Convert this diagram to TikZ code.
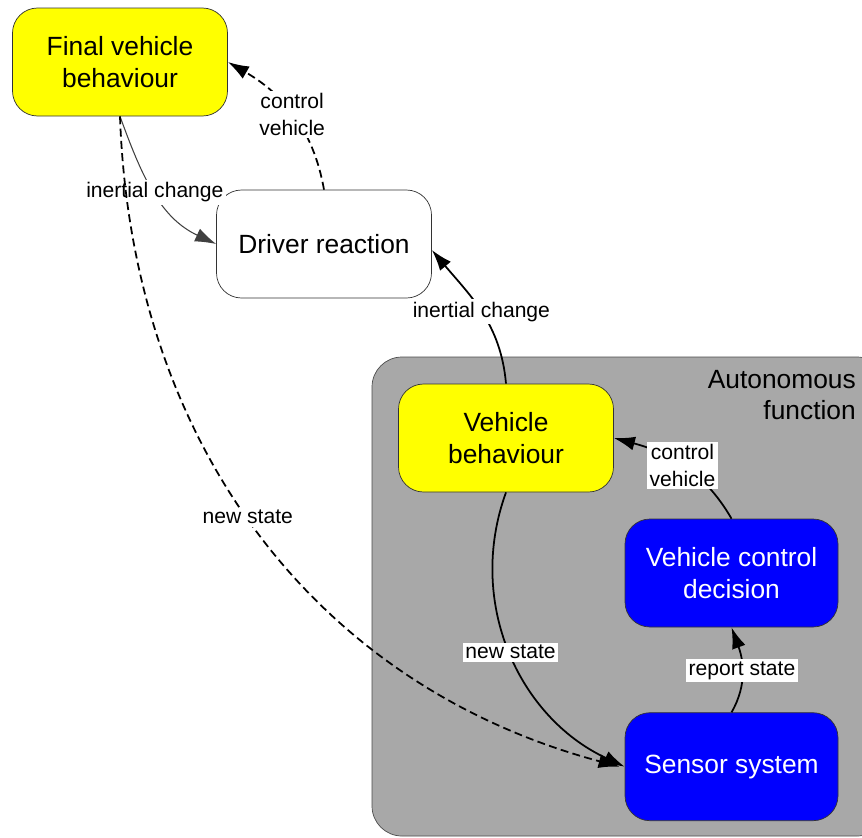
\documentclass[tikz,border=0pt]{standalone}
\usepackage{fontspec}
\setmainfont{Liberation Sans}
\usetikzlibrary{shapes, arrows.meta, positioning}

\definecolor{behyellow}{HTML}{FFFF00}
\definecolor{ctrlblue}{HTML}{0000FF}
\definecolor{autogray}{HTML}{A8A8A8}

\begin{document}
\begin{tikzpicture}[
	state/.style={draw=black!80, rounded corners=0.5cm, minimum width=4.3cm, minimum height=2.16cm, align=center, font=\fontsize{15}{18}\selectfont},
	lbl/.style={fill=white, inner sep=1.5pt, align=center, font=\fontsize{12}{15}\selectfont},
	flow/.style={-{Latex[length=12pt,width=8pt]}, line width=1pt},
	guess/.style={dash pattern=on 4.5pt off 2.5pt},
	]
	\useasboundingbox (0,0) rectangle (17.24,-16.74);

	% autonomous function block
	\node[draw=black!70, fill=autogray, rounded corners=0.6cm, minimum width=10.3cm, minimum height=9.58cm] (auto) at (12.59,-11.93) {};
	\node[anchor=north east, align=right, font=\fontsize{15}{18}\selectfont] (autolbl) at (17.24,-7.28) {Autonomous\\function};

	% states
	\node[state, fill=behyellow] (final) at (2.4,-1.24) {Final vehicle\\behaviour};
	\node[state, fill=white] (driver) at (6.48,-4.88) {Driver reaction};
	\node[state, fill=behyellow] (vb) at (10.12,-8.76) {Vehicle\\behaviour};
	\node[state, fill=ctrlblue, text=white, minimum width=4.26cm] (vcd) at (14.63,-11.46) {Vehicle control\\decision};
	\node[state, fill=ctrlblue, text=white, minimum width=4.26cm, below=1.7cm of vcd] (sensor) {Sensor system};

	% connectors
	\draw[flow, line width=0.6pt, black!75] (final.south) to[out=-70, in=155] node[lbl, text=black] {inertial change} (driver.west);
	\draw[flow, guess] (driver.north) to[out=100, in=-30] node[lbl] {control\\vehicle} (final.east);
	\draw[flow] (vb.north) to[out=95, in=-50] node[lbl] {inertial change} ([yshift=-0.12cm]driver.east);
	\draw[flow] (vcd.north) to[out=120, in=-15] node[lbl] {control\\vehicle} (vb.east);
	\draw[flow] (vb.south) to[out=-110, in=155] node[lbl] {new state} (sensor.west);
	\draw[flow] (sensor.north) to[out=60, in=-70] node[lbl] {report state} (vcd.south);
	\draw[flow, guess] (final.south) to[out=-88, in=165] node[lbl, pos=0.48] {new state} ([xshift=-0.1cm]sensor.west);
\end{tikzpicture}
\end{document}
